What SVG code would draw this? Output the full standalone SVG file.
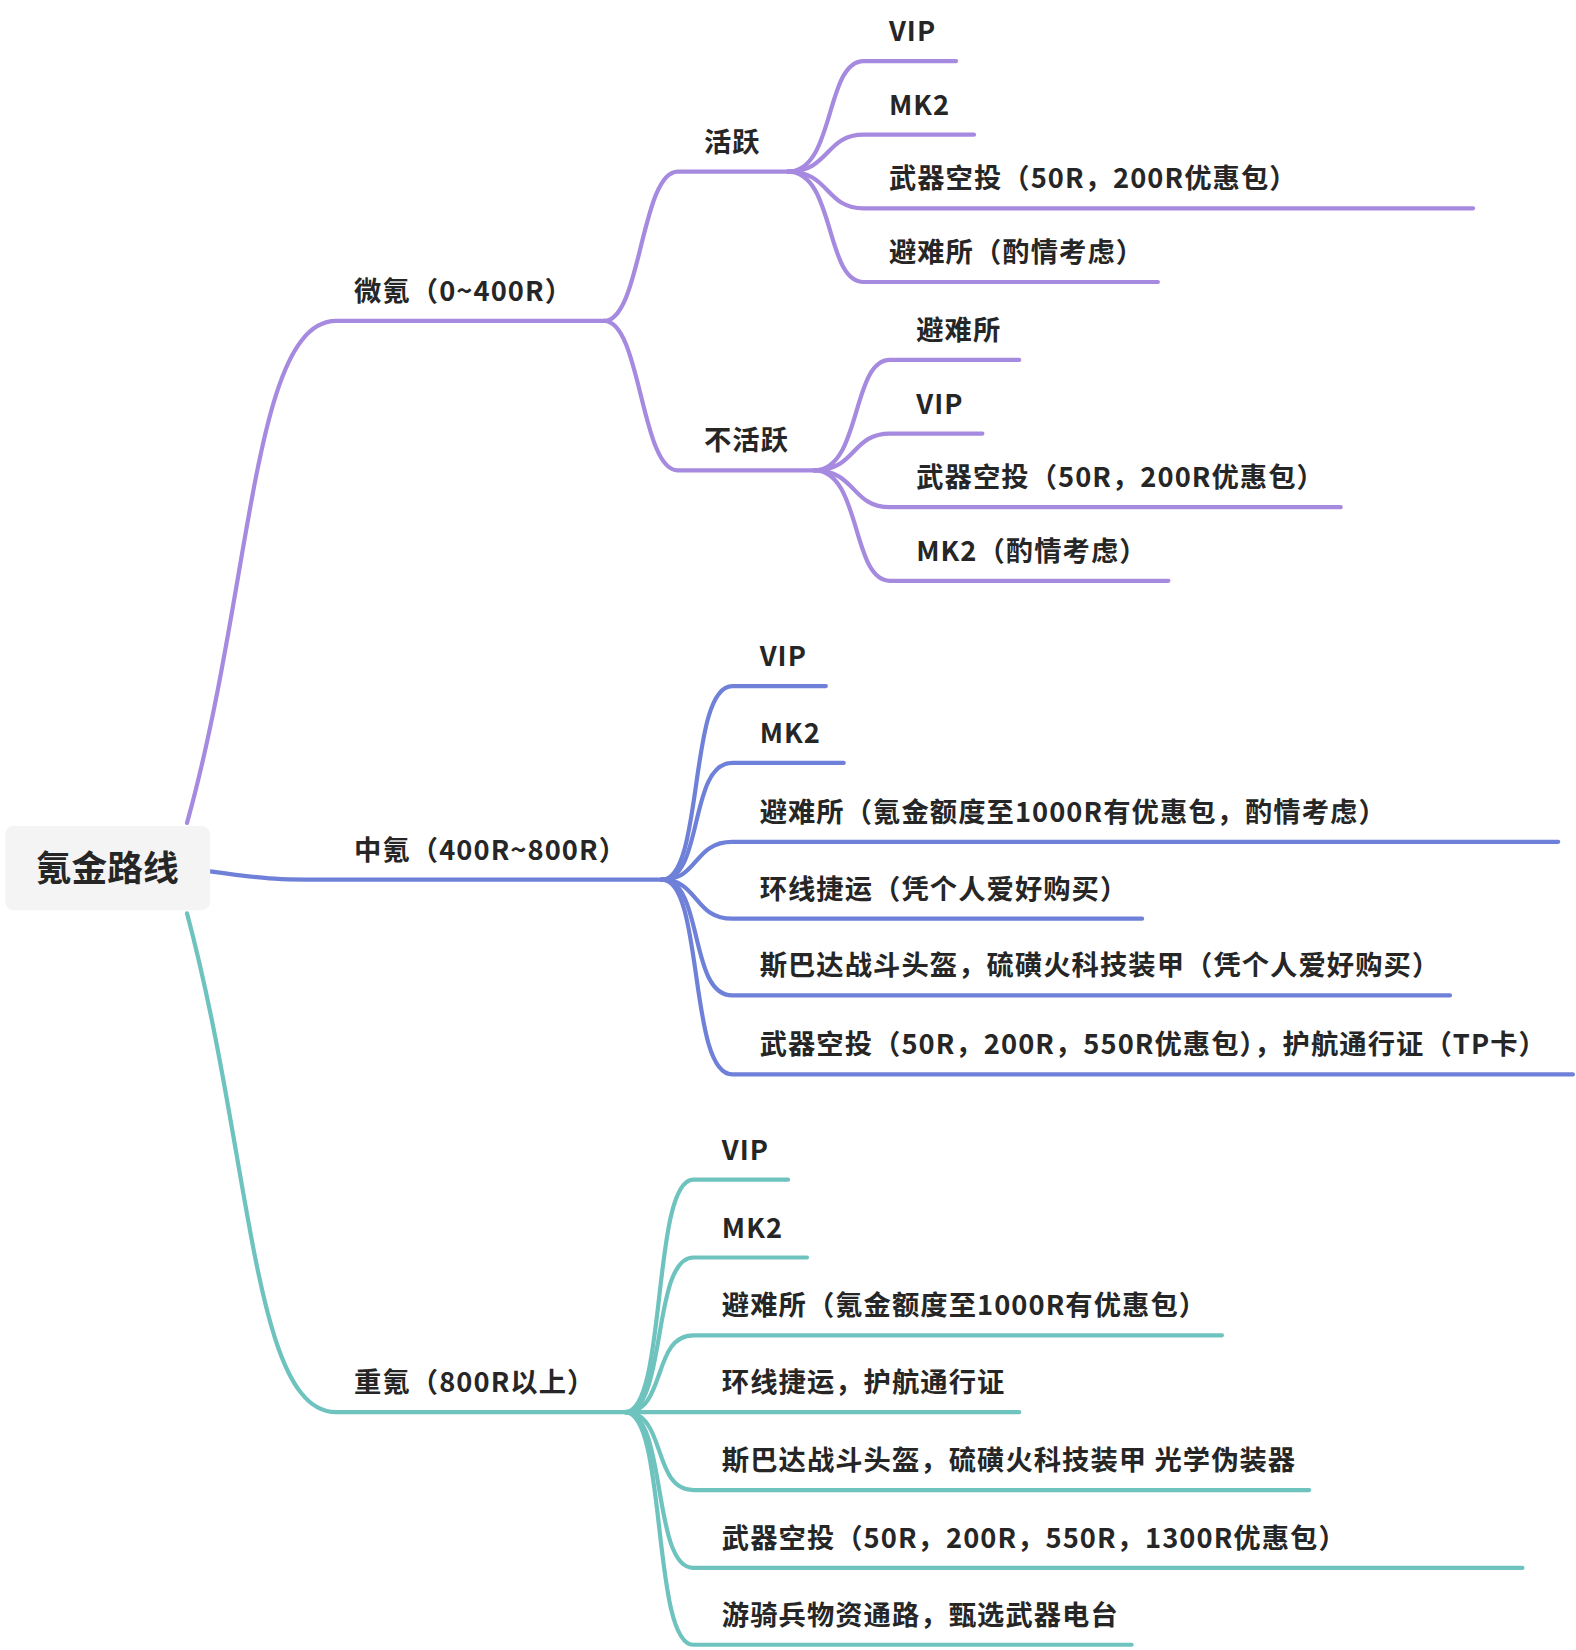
<svg xmlns="http://www.w3.org/2000/svg" width="1576" height="1650" viewBox="0 0 1576 1650">
<style>
text{font-family:"Noto Sans CJK SC","Noto Sans",sans-serif;font-weight:bold;font-size:26px;letter-spacing:1px;fill:#262626}
.p{stroke:#A68ADF;fill:none;stroke-width:4;stroke-linecap:round}
.b{stroke:#6F80D9;fill:none;stroke-width:4;stroke-linecap:round}
.t{stroke:#6EC3BE;fill:none;stroke-width:4;stroke-linecap:round}
</style>
<rect width="1576" height="1650" fill="#fff"/>
<g transform="scale(1.0507,1.0523)">
<g id="connectors">
<path class="p" d="M178,782 C240,560 240,305 320,305 L575,305"/>
<path class="p" d="M575,305 C610,305 610,163 645,163 L750,163"/>
<path class="p" d="M575,305 C610,305 610,447 645,447 L775,447"/>
<path class="p" d="M750,163 C795,163 785,58 822,58 L910,58"/>
<path class="p" d="M750,163 C790,163 785,128 822,128 L927,128"/>
<path class="p" d="M750,163 C790,163 785,198 822,198 L1402,198"/>
<path class="p" d="M750,163 C795,163 785,268 822,268 L1102,268"/>
<path class="p" d="M775,447 C820,447 810,342 847,342 L970,342"/>
<path class="p" d="M775,447 C815,447 810,412 847,412 L935,412"/>
<path class="p" d="M775,447 C815,447 810,482 847,482 L1276,482"/>
<path class="p" d="M775,447 C820,447 810,552 847,552 L1112,552"/>
<path class="b" d="M200,828 C250,835 260,836 320,836 L630,836"/>
<path class="b" d="M630,836 C670,836 655,652 697,652 L786,652"/>
<path class="b" d="M630,836 C670,836 655,725 697,725 L803,725"/>
<path class="b" d="M630,836 C665,836 660,800 697,800 L1483,800"/>
<path class="b" d="M630,836 C665,836 660,873 697,873 L1087,873"/>
<path class="b" d="M630,836 C670,836 655,946 697,946 L1380,946"/>
<path class="b" d="M630,836 C670,836 655,1021 697,1021 L1497,1021"/>
<path class="t" d="M178,868 C240,1100 240,1342 320,1342 L595,1342"/>
<path class="t" d="M595,1342 C635,1342 620,1121 660,1121 L750,1121"/>
<path class="t" d="M595,1342 C635,1342 620,1195 660,1195 L768,1195"/>
<path class="t" d="M595,1342 C635,1342 620,1269 660,1269 L1163,1269"/>
<path class="t" d="M595,1342 L970,1342"/>
<path class="t" d="M595,1342 C635,1342 620,1416 660,1416 L1246,1416"/>
<path class="t" d="M595,1342 C635,1342 620,1490 660,1490 L1449,1490"/>
<path class="t" d="M595,1342 C635,1342 620,1563 660,1563 L1077,1563"/>
</g>
<g id="root"><rect x="5" y="785" width="195" height="80" rx="8" fill="#F4F4F4"/><text x="102" y="837" text-anchor="middle" style="font-size:34px;letter-spacing:0">氪金路线</text></g>
<g id="n1"><text x="337" y="286">微氪（0~400R）</text></g>
<g id="n11"><text x="670" y="144">活跃</text></g>
<g id="n12"><text x="670" y="428">不活跃</text></g>
<g id="n111"><text x="846" y="39">VIP</text></g>
<g id="n112"><text x="846" y="109">MK2</text></g>
<g id="n113"><text x="846" y="179">武器空投（50R，200R优惠包）</text></g>
<g id="n114"><text x="846" y="249">避难所（酌情考虑）</text></g>
<g id="n121"><text x="872" y="323">避难所</text></g>
<g id="n122"><text x="872" y="393">VIP</text></g>
<g id="n123"><text x="872" y="463">武器空投（50R，200R优惠包）</text></g>
<g id="n124"><text x="872" y="533">MK2（酌情考虑）</text></g>
<g id="n2"><text x="337" y="817">中氪（400R~800R）</text></g>
<g id="n21"><text x="723" y="633">VIP</text></g>
<g id="n22"><text x="723" y="706">MK2</text></g>
<g id="n23"><text x="723" y="781">避难所（氪金额度至1000R有优惠包，酌情考虑）</text></g>
<g id="n24"><text x="723" y="854">环线捷运（凭个人爱好购买）</text></g>
<g id="n25"><text x="723" y="927">斯巴达战斗头盔，硫磺火科技装甲（凭个人爱好购买）</text></g>
<g id="n26"><text x="723" y="1002">武器空投（50R，200R，550R优惠包），护航通行证（TP卡）</text></g>
<g id="n3"><text x="337" y="1323">重氪（800R以上）</text></g>
<g id="n31"><text x="687" y="1102">VIP</text></g>
<g id="n32"><text x="687" y="1176">MK2</text></g>
<g id="n33"><text x="687" y="1250">避难所（氪金额度至1000R有优惠包）</text></g>
<g id="n34"><text x="687" y="1323">环线捷运，护航通行证</text></g>
<g id="n35"><text x="687" y="1397">斯巴达战斗头盔，硫磺火科技装甲 光学伪装器</text></g>
<g id="n36"><text x="687" y="1471">武器空投（50R，200R，550R，1300R优惠包）</text></g>
<g id="n37"><text x="687" y="1544">游骑兵物资通路，甄选武器电台</text></g>
</g>
</svg>
